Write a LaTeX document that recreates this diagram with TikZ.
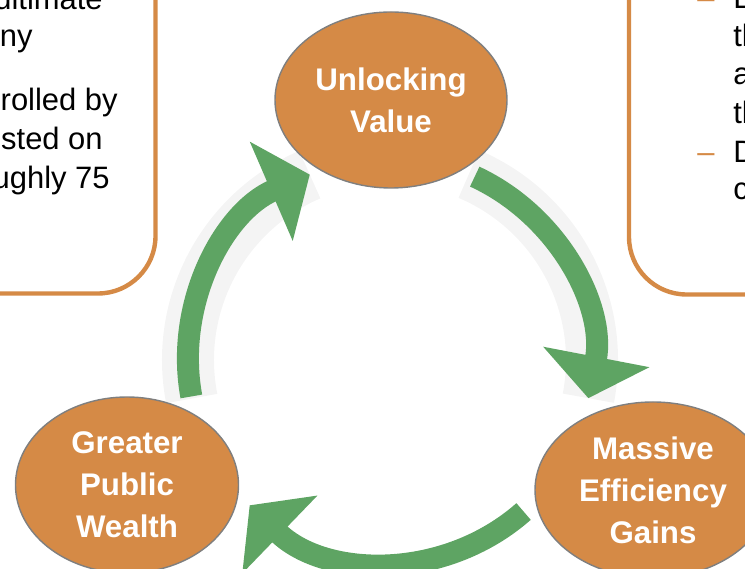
\documentclass[tikz,border=0pt]{standalone}
\usepackage{fontspec}
\setmainfont{Liberation Sans}
\usepackage{xcolor}
\usetikzlibrary{arrows.meta,calc,positioning,shapes.geometric}
\definecolor{CycleOrange}{HTML}{D58A46}
\definecolor{CycleGreen}{HTML}{5EA463}
\definecolor{GlowGrey}{HTML}{F4F4F4}
\definecolor{RimGrey}{HTML}{7F7F7F}

\begin{document}
\begin{tikzpicture}[
  stage/.style={ellipse,draw=RimGrey,line width=0.8pt,fill=CycleOrange,inner sep=0pt,minimum height=3.52cm,align=center,text=white,font=\fontsize{17.8}{23.9}\selectfont\bfseries},
  panel/.style={draw=CycleOrange,line width=2.5pt,rounded corners=1.15cm,fill=white,outer sep=0pt,minimum width=6cm,minimum height=8cm},
  bodytxt/.style={inner sep=0pt,font=\fontsize{17.6}{22}\selectfont},
  bulletmark/.style={inner sep=0pt,text=CycleOrange,font=\fontsize{17.6}{22}\selectfont,anchor=base west},
  glow/.style={draw=GlowGrey,line width=1.04cm},
  arr/.style={draw=CycleGreen,line width=0.44cm,-{Triangle[length=0.84cm,width=2.12cm]}}
]
\useasboundingbox (0,0) rectangle (14.9,11.38);

% side panels, cut by the slide edges
\node[panel,anchor=south east] (leftpanel) at (3.11,5.51) {};
\node[panel,anchor=south west] (rightpanel) at (12.58,5.49) {};

\node[bodytxt,anchor=base east] (ltxta) at (2.06,11.18) {ultimate};
\node[bodytxt,anchor=base east] (ltxtb) at (0.66,10.44) {ny};
\node[bodytxt,anchor=base east] (ltxtc) at (2.36,9.17) {rolled by};
\node[bodytxt,anchor=base east] (ltxtd) at (2.06,8.38) {sted on};
\node[bodytxt,anchor=base east] (ltxte) at (2.20,7.60) {ughly 75};

\node[bulletmark] (rdasha) at (13.94,11.20) {–};
\node[bulletmark] (rdashb) at (13.94,8.12) {–};
\node[bodytxt,anchor=base west] (rtxta) at (14.66,11.20) {L};
\node[bodytxt,anchor=base west] (rtxtb) at (14.66,10.44) {th};
\node[bodytxt,anchor=base west] (rtxtc) at (14.66,9.68) {a};
\node[bodytxt,anchor=base west] (rtxtd) at (14.66,8.90) {th};
\node[bodytxt,anchor=base west] (rtxte) at (14.66,8.12) {D};
\node[bodytxt,anchor=base west] (rtxtf) at (14.66,7.38) {c};

% cycle arrows
\coordinate (hub) at (7.80,4.18);
\draw[glow] ($(hub)+(191:4.04)$) arc[start angle=191,end angle=113.4,radius=4.04];
\draw[glow] ($(hub)+(67:4.04)$) arc[start angle=67,end angle=-10.9,radius=4.04];
\draw[arr] ($(hub)+(190.4:4.04)$) arc[start angle=190.4,end angle=113.4,radius=4.04];
\draw[arr] ($(hub)+(65.2:4.04)$) arc[start angle=65.2,end angle=-10.9,radius=4.04];
\draw[arr] ($(hub)+(-48.6:4.04)$) arc[start angle=-48.6,end angle=-134,radius=4.04];

% stages
\node[stage,minimum width=4.64cm] (unlock) at (7.82,9.38) {Unlocking\\Value};
\node[stage,minimum width=4.72cm] (gains) at (13.06,1.58) {Massive\\Efficiency\\Gains};
\node[stage,minimum width=4.46cm] (wealth) at (2.54,1.68) {Greater\\Public\\Wealth};
\end{tikzpicture}
\end{document}
